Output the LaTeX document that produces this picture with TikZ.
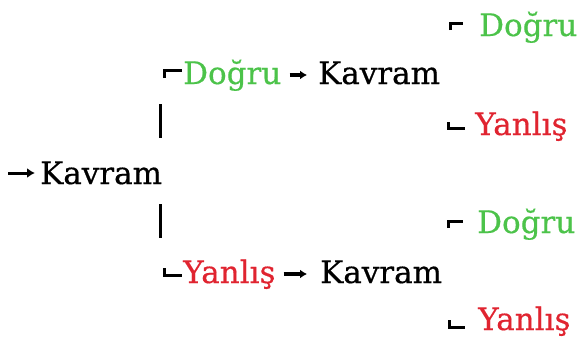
\documentclass[tikz,border=0pt]{standalone}
\usepackage{fontspec}
\setmainfont{DejaVu Serif}[FakeBold=0.5]
\usetikzlibrary{arrows.meta}
\definecolor{dogrucol}{RGB}{76,195,74}
\definecolor{yanliscol}{RGB}{224,36,48}
\tikzset{>=latex}
\tikzset{word/.style = {anchor=base west,inner sep=0pt,font=\fontsize{31}{31}\selectfont}}
\tikzset{dogru/.style = {word,text=dogrucol}}
\tikzset{yanlis/.style = {word,text=yanliscol}}
\tikzset{tick/.style = {line width=3pt}}

\begin{document}
\begin{tikzpicture}[x=1pt,y=-1pt]
                    \useasboundingbox (0,0) rectangle (579,340);
                    \node[word] (K) at (40,184) {Kavram};
                    \node[dogru] (D) at (183,84) {Doğru};
                    \node[word] (KD) at (318,84) {Kavram};
                    \node[yanlis] (Y) at (183,283) {Yanlış};
                    \node[word] (KY) at (320,283) {Kavram};
                    \node[dogru] (DD) at (479,36) {Doğru};
                    \node[yanlis] (DY) at (475,135) {Yanlış};
                    \node[dogru] (YD) at (477,233) {Doğru};
                    \node[yanlis] (YY) at (478,330) {Yanlış};
                    \coordinate (in) at (8,173);

                    \draw[-{Latex[length=8pt,width=10pt]},line width=3pt] (in) -- ([xshift=-5pt]K.west |- in);
                    \draw[-{Latex[length=7pt,width=9pt]},line width=3.2pt] ([xshift=8pt,yshift=9pt]D.base east) -- ([xshift=-11pt,yshift=9pt]KD.base west);
                    \draw[-{Latex[length=7pt,width=9pt]},line width=3.2pt] ([xshift=8pt,yshift=9pt]Y.base east) -- ([xshift=-13pt,yshift=9pt]KY.base west);
                    \draw[line width=3pt] (160,104) -- (160,138);
                    \draw[line width=3pt] (160,204) -- (160,238);
                    \draw[tick] (164,78) -- (164,70) -- (182,70);
                    \draw[tick] (164,268) -- (164,275) -- (182,275);
                    \draw[tick] (450,30) -- (450,23) -- (463,23);
                    \draw[tick] (448,122) -- (448,128) -- (465,128);
                    \draw[tick] (448,228) -- (448,221) -- (463,221);
                    \draw[tick] (449,320) -- (449,327) -- (465,327);
                \end{tikzpicture}
\end{document}
